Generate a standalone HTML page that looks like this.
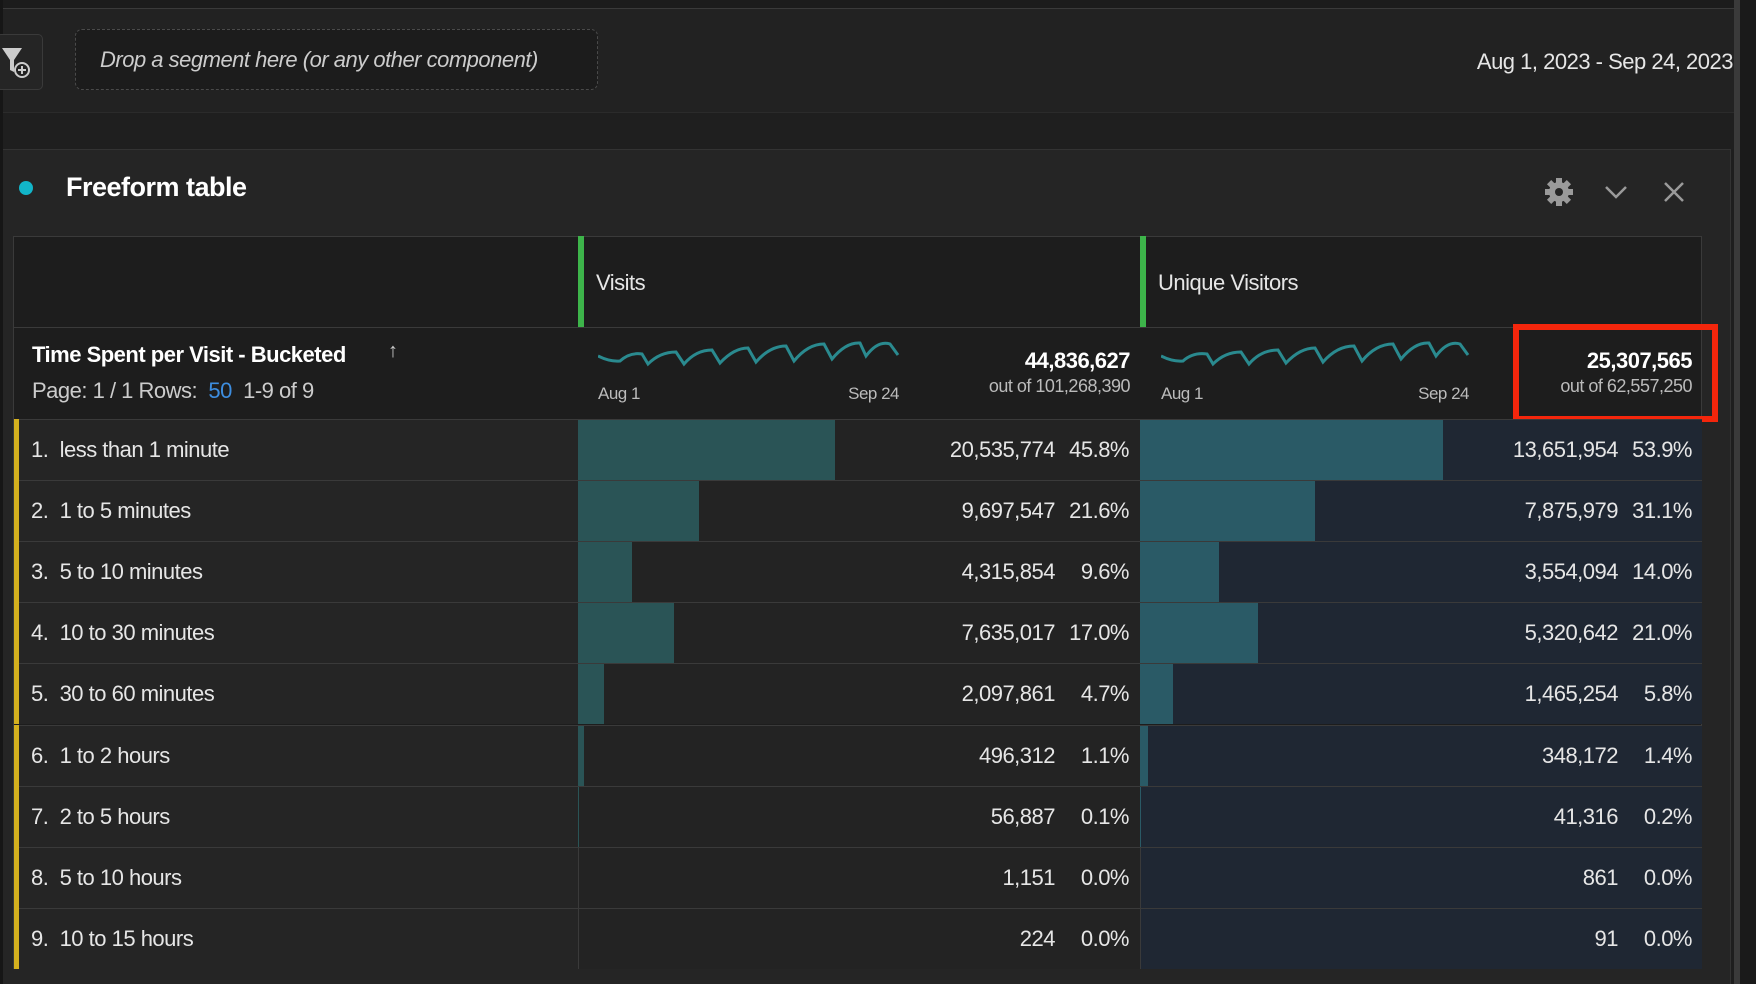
<!DOCTYPE html>
<html><head><meta charset="utf-8"><style>
*{margin:0;padding:0;box-sizing:border-box}
body{width:1756px;height:984px;background:#1e1e1e;font-family:"Liberation Sans",sans-serif;color:#e6e6e6;position:relative;overflow:hidden;letter-spacing:-0.5px}
.a{position:absolute}
.r{position:absolute;text-align:right;white-space:nowrap}
.t{white-space:nowrap;position:absolute}
</style></head><body>
<div class="a" style="left:0;top:0;width:1734px;height:9px;background:#1c1c1c;border-bottom:1px solid #3a3a3a"></div>
<div class="a" style="left:0;top:9px;width:1734px;height:103px;background:#222"></div>
<div class="a" style="left:0;top:112px;width:1734px;height:37px;background:#1f1f1f;border-top:1px solid #2b2b2b"></div>
<div class="a" style="left:1734px;top:0;width:6px;height:984px;background:#3a3a3a"></div>
<div class="a" style="left:1740px;top:0;width:16px;height:984px;background:#1a1a1a"></div>
<div class="a" style="left:0;top:0;width:3px;height:984px;background:#161616"></div>
<div class="a" style="left:-4px;top:34px;width:47px;height:56px;border:1px solid #3a3a3a;border-radius:5px;background:#252525"></div>
<svg class="a" style="left:2px;top:46px" width="30" height="34"><path d="M0 2H20L12 14V26L8 24V14Z" fill="#ccc"/><circle cx="20" cy="24" r="7" fill="#222" stroke="#ccc" stroke-width="2"/><path d="M20 20V28M16 24H24" stroke="#ccc" stroke-width="2"/></svg>
<div class="a" style="left:75px;top:29px;width:523px;height:61px;border:1px dashed #4a4a4a;border-radius:7px;background:#1c1c1c"></div>
<div class="t" style="left:100px;top:47px;font-size:22px;font-style:italic;color:#ccc">Drop a segment here (or any other component)</div>
<div class="r" style="right:23px;top:49px;font-size:22px;color:#e6e6e6">Aug 1, 2023 - Sep 24, 2023</div>
<div class="a" style="left:3px;top:149px;width:1728px;height:835px;background:#252525;border-top:1px solid #333;border-right:1px solid #333"></div>
<div class="a" style="left:19px;top:181px;width:14px;height:14px;border-radius:50%;background:#12b5c9"></div>
<div class="t" style="left:66px;top:172px;font-size:27px;font-weight:bold;color:#fff">Freeform table</div>
<svg class="a" style="left:1543px;top:176px" width="32" height="32" viewBox="-16 -16 32 32"><g fill="#9a9a9a"><circle r="10"/><rect x="-3" y="-14" width="6" height="28"/><rect x="-3" y="-14" width="6" height="28" transform="rotate(45)"/><rect x="-3" y="-14" width="6" height="28" transform="rotate(90)"/><rect x="-3" y="-14" width="6" height="28" transform="rotate(135)"/></g><circle r="4" fill="#252525"/></svg>
<svg class="a" style="left:1604px;top:184px" width="24" height="16"><path d="M2 3L12 13L22 3" stroke="#9a9a9a" stroke-width="2.5" fill="none"/></svg>
<svg class="a" style="left:1663px;top:181px" width="22" height="22"><path d="M2 2L20 20M20 2L2 20" stroke="#9a9a9a" stroke-width="2.5"/></svg>
<div class="a" style="left:13px;top:236px;width:1689px;height:733px;background:#1d1d1d;border:1px solid #3a3a3a"></div>
<div class="a" style="left:13px;top:327px;width:1689px;height:1px;background:#3a3a3a"></div>
<div class="a" style="left:578px;top:236px;width:6px;height:91px;background:#3db44a"></div>
<div class="a" style="left:1140px;top:236px;width:6px;height:91px;background:#3db44a"></div>
<div class="t" style="left:596px;top:270px;font-size:22px">Visits</div>
<div class="t" style="left:1158px;top:270px;font-size:22px">Unique Visitors</div>
<div class="t" style="left:32px;top:342px;font-size:22px;font-weight:bold;color:#fff">Time Spent per Visit - Bucketed</div>
<div class="t" style="left:388px;top:340px;font-size:20px;color:#ccc">&#8593;</div>
<div class="t" style="left:32px;top:378px;font-size:22px;color:#ccc">Page: 1 / 1 Rows: <span style="color:#3d8ddf">&nbsp;50</span>&nbsp; 1-9 of 9</div>
<svg class="a" style="left:598px;top:338px" width="304" height="34"><path fill="none" stroke="#2a8a8f" stroke-width="3" d="M0 18 Q12 24 22 23 Q32 14 44 16 L50 26 Q62 14 78 14 L86 26 Q98 12 114 12 L122 25 Q136 10 150 10 L158 24 Q172 8 188 8 L196 23 Q210 6 226 6 L234 21 Q248 4 262 5 L268 18 Q280 2 292 6 L300 17"/></svg>
<svg class="a" style="left:1161px;top:338px" width="312" height="34"><path fill="none" stroke="#2a8a8f" stroke-width="3" d="M0 18 Q12 24 22 23 Q32 14 46 16 L52 26 Q64 14 80 14 L88 26 Q100 12 117 12 L125 25 Q139 10 154 10 L162 24 Q176 8 193 8 L201 23 Q215 6 232 6 L240 21 Q254 4 268 5 L275 18 Q287 2 299 6 L307 17"/></svg>
<div class="t" style="left:598px;top:384px;font-size:17px;color:#bbb">Aug 1</div>
<div class="r" style="right:857px;top:384px;font-size:17px;color:#bbb">Sep 24</div>
<div class="t" style="left:1161px;top:384px;font-size:17px;color:#bbb">Aug 1</div>
<div class="r" style="right:287px;top:384px;font-size:17px;color:#bbb">Sep 24</div>
<div class="r" style="right:626px;top:348px;font-size:22px;font-weight:bold;color:#fff">44,836,627</div>
<div class="r" style="right:626px;top:376px;font-size:18px;color:#bbb">out of 101,268,390</div>
<div class="r" style="right:64px;top:348px;font-size:22px;font-weight:bold;color:#fff">25,307,565</div>
<div class="r" style="right:64px;top:376px;font-size:18px;color:#bbb">out of 62,557,250</div>
<div class="a" style="left:1513px;top:324px;width:205px;height:98px;border:6px solid #f4260c"></div>
<div id="rows"></div>
<script>
var d=[["1.","less than 1 minute","20,535,774","45.8%",45.8,"13,651,954","53.9%",53.9],
["2.","1 to 5 minutes","9,697,547","21.6%",21.6,"7,875,979","31.1%",31.1],
["3.","5 to 10 minutes","4,315,854","9.6%",9.6,"3,554,094","14.0%",14.0],
["4.","10 to 30 minutes","7,635,017","17.0%",17.0,"5,320,642","21.0%",21.0],
["5.","30 to 60 minutes","2,097,861","4.7%",4.7,"1,465,254","5.8%",5.8],
["6.","1 to 2 hours","496,312","1.1%",1.1,"348,172","1.4%",1.4],
["7.","2 to 5 hours","56,887","0.1%",0.1,"41,316","0.2%",0.2],
["8.","5 to 10 hours","1,151","0.0%",0,"861","0.0%",0],
["9.","10 to 15 hours","224","0.0%",0,"91","0.0%",0]];
var h="";
for(var i=0;i<9;i++){var y=419+i*61.1,r=d[i];
h+='<div class="a" style="left:14px;top:'+y+'px;width:564px;height:61px;background:#252525;border-top:1px solid #3a3a3a"></div>';
h+='<div class="a" style="left:14px;top:'+y+'px;width:5px;height:61px;background:#d4b01e"></div>';
h+='<div class="a" style="left:578px;top:'+y+'px;width:562px;height:61px;background:#232323;border-top:1px solid #3a3a3a;border-left:1px solid #3a3a3a"></div>';
h+='<div class="a" style="left:578px;top:'+(y+1)+'px;width:'+(562*r[4]/100)+'px;height:60px;background:#2a5456"></div>';
h+='<div class="a" style="left:1140px;top:'+y+'px;width:562px;height:61px;background:#1f2733;border-top:1px solid #3a3a3a;border-left:1px solid #3a3a3a"></div>';
h+='<div class="a" style="left:1140px;top:'+(y+1)+'px;width:'+(562*r[7]/100)+'px;height:60px;background:#2a5a66"></div>';
h+='<div class="t" style="left:31px;top:'+(y+18)+'px;font-size:22px">'+r[0]+'&nbsp; '+r[1]+'</div>';
h+='<div class="r" style="right:701px;top:'+(y+18)+'px;font-size:22px">'+r[2]+'</div>';
h+='<div class="r" style="right:627px;top:'+(y+18)+'px;font-size:22px">'+r[3]+'</div>';
h+='<div class="r" style="right:138px;top:'+(y+18)+'px;font-size:22px">'+r[5]+'</div>';
h+='<div class="r" style="right:64px;top:'+(y+18)+'px;font-size:22px">'+r[6]+'</div>';}
document.getElementById("rows").innerHTML=h;
</script>
</body></html>
